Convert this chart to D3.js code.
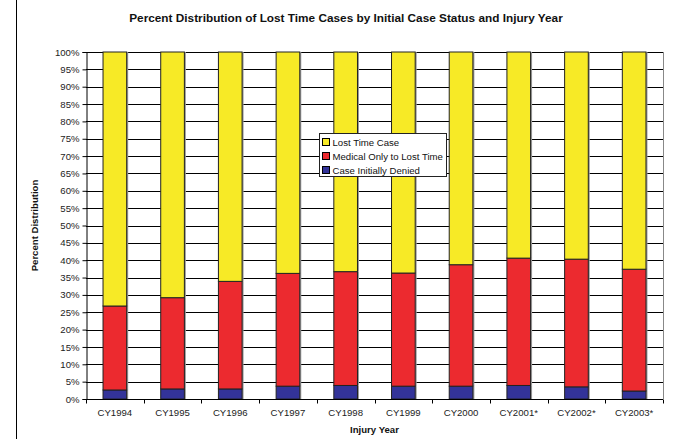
<!DOCTYPE html>
<html>
<head>
<meta charset="utf-8">
<script src="https://cdn.jsdelivr.net/npm/d3@7"></script>
<style>
  body { margin: 0; background: #fff; }
  svg { display: block; font-family: Arial, "Liberation Sans", sans-serif; }
</style>
</head>
<body>
<div id="chart"></div>
<script>
const years = ['CY1994', 'CY1995', 'CY1996', 'CY1997', 'CY1998', 'CY1999', 'CY2000', 'CY2001*', 'CY2002*', 'CY2003*']
// percent of cases, bottom to top
const deniedPct = [2.6, 2.9, 2.9, 3.7, 3.9, 3.7, 3.7, 3.9, 3.5, 2.3]
const medicalPct = [24.2, 26.3, 31.0, 32.5, 32.8, 32.6, 35.0, 36.7, 36.8, 35.1]
const lostTimePct = years.map((_, i) => 100 - deniedPct[i] - medicalPct[i])
const seriesNames = ['Case Initially Denied', 'Medical Only to Lost Time', 'Lost Time Case']
const seriesColors = ['#333399', '#ec2a2f', '#f7ea26']
const yTicks = d3.range(0, 101, 5)

const width = 678
const height = 439
const margin = { top: 52, right: 15, bottom: 40, left: 86 }

const svg = d3.select('#chart').append('svg')
  .attr('width', width)
  .attr('height', height)

// outer frame line on left edge
svg.append('line')
  .attr('x1', 16.5).attr('x2', 16.5)
  .attr('y1', 0).attr('y2', height)
  .attr('stroke', '#000')

const x = d3.scaleBand()
  .domain(years)
  .range([margin.left, width - margin.right])
  .paddingInner(0.59)
  .paddingOuter(0.295)

const y = d3.scaleLinear()
  .domain([0, 100])
  .range([height - margin.bottom, margin.top])

// grid lines
svg.append('g')
  .selectAll('line')
  .data(yTicks.filter(d => d > 0))
  .join('line')
  .attr('x1', margin.left)
  .attr('x2', width - margin.right)
  .attr('y1', d => Math.round(y(d)) + 0.5)
  .attr('y2', d => Math.round(y(d)) + 0.5)
  .attr('stroke', '#000')
  .attr('stroke-width', 1)

// plot border right side
svg.append('line')
  .attr('x1', width - margin.right + 0.5).attr('x2', width - margin.right + 0.5)
  .attr('y1', y(100)).attr('y2', y(0))
  .attr('stroke', '#888')

// stacked data
const rows = years.map((yr, i) => ({ year: yr, v0: deniedPct[i], v1: medicalPct[i], v2: lostTimePct[i] }))
const stack = d3.stack().keys(['v0', 'v1', 'v2'])(rows)

const barsG = svg.append('g')
stack.forEach((layer) => {
  // shadow
  barsG.append('g')
    .selectAll('rect')
    .data(layer)
    .join('rect')
    .attr('x', d => x(d.data.year) + 1.5)
    .attr('y', d => y(d[1]))
    .attr('width', x.bandwidth())
    .attr('height', d => y(d[0]) - y(d[1]))
    .attr('fill', '#999')
})
stack.forEach((layer, li) => {
  barsG.append('g')
    .selectAll('rect')
    .data(layer)
    .join('rect')
    .attr('x', d => x(d.data.year))
    .attr('y', d => y(d[1]))
    .attr('width', x.bandwidth())
    .attr('height', d => y(d[0]) - y(d[1]))
    .attr('fill', seriesColors[li])
    .attr('stroke', '#222')
    .attr('stroke-width', 1)
})

// y axis
const yAxis = svg.append('g')
  .attr('transform', `translate(${margin.left + 0.5},0)`)
  .call(d3.axisLeft(y).tickValues(yTicks).tickFormat(d => d + '%').tickSize(4).tickPadding(3))
yAxis.select('.domain').attr('stroke', '#000')
yAxis.selectAll('.tick line').attr('stroke', '#000')
yAxis.selectAll('text').attr('font-size', 9.6).attr('fill', '#222').attr('font-family', 'Arial, "Liberation Sans", sans-serif')

// x axis
const xAxisG = svg.append('g')
  .attr('transform', `translate(0,${y(0) + 0.5})`)
xAxisG.append('line')
  .attr('x1', margin.left).attr('x2', width - margin.right)
  .attr('stroke', '#000')
const step = x.step()
const boundaries = d3.range(0, years.length + 1).map(i => margin.left + i * step)
xAxisG.selectAll('line.tk')
  .data(boundaries)
  .join('line')
  .attr('class', 'tk')
  .attr('x1', d => Math.round(d) + 0.5).attr('x2', d => Math.round(d) + 0.5)
  .attr('y1', 0).attr('y2', 4)
  .attr('stroke', '#000')
xAxisG.selectAll('text')
  .data(years)
  .join('text')
  .attr('x', d => x(d) + x.bandwidth() / 2)
  .attr('y', 16)
  .attr('text-anchor', 'middle')
  .attr('font-size', 9.6)
  .attr('fill', '#222')
  .text(d => d)

// titles
svg.append('text')
  .attr('x', 346).attr('y', 22)
  .attr('text-anchor', 'middle')
  .attr('font-size', 11.8)
  .attr('font-weight', 'bold')
  .attr('fill', '#111')
  .text('Percent Distribution of Lost Time Cases by Initial Case Status and Injury Year')

svg.append('text')
  .attr('x', (margin.left + width - margin.right) / 2)
  .attr('y', 433)
  .attr('text-anchor', 'middle')
  .attr('font-size', 9.6)
  .attr('font-weight', 'bold')
  .attr('fill', '#111')
  .text('Injury Year')

svg.append('text')
  .attr('transform', `translate(38,${(y(0) + y(100)) / 2}) rotate(-90)`)
  .attr('text-anchor', 'middle')
  .attr('font-size', 9.6)
  .attr('font-weight', 'bold')
  .attr('fill', '#111')
  .text('Percent Distribution')

// legend
const legend = svg.append('g').attr('transform', 'translate(319.5,133.5)')
legend.append('rect')
  .attr('width', 127).attr('height', 43)
  .attr('fill', '#fff')
  .attr('stroke', '#222')
const legendItems = [2, 1, 0]
legendItems.forEach((si, i) => {
  const g = legend.append('g').attr('transform', `translate(3,${5 + i * 14})`)
  g.append('rect')
    .attr('width', 7).attr('height', 7)
    .attr('fill', seriesColors[si])
    .attr('stroke', '#000')
  g.append('text')
    .attr('x', 10).attr('y', 7.5)
    .attr('font-size', 9.6)
    .attr('fill', '#111')
    .text(seriesNames[si])
})
</script>
</body>
</html>
